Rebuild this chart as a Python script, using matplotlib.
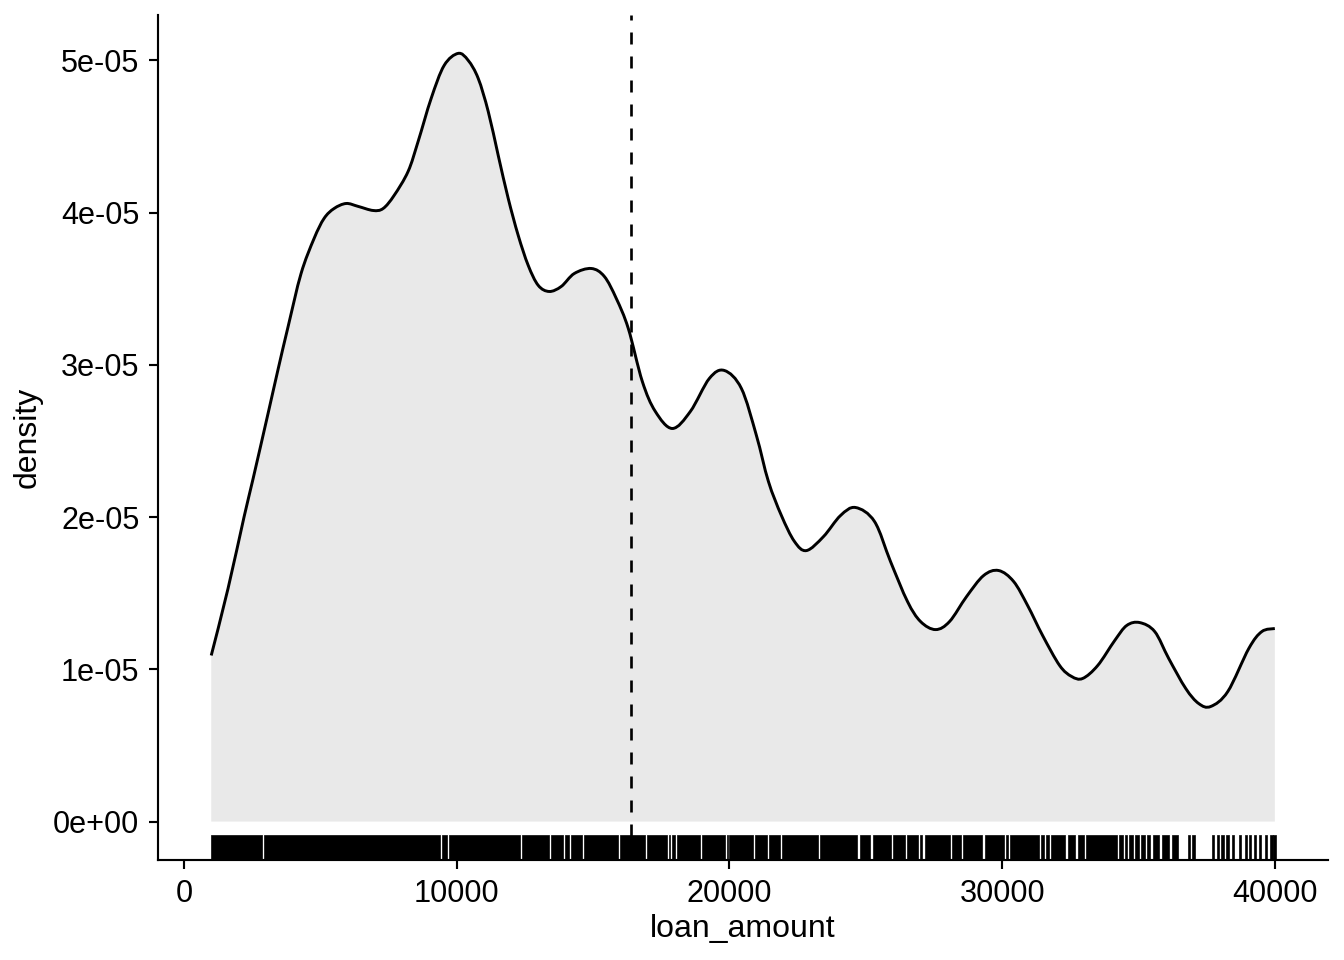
import numpy as np
import matplotlib.pyplot as plt
from matplotlib.path import Path
from matplotlib.patches import PathPatch
from matplotlib.transforms import blended_transform_factory

plt.rcParams['font.family'] = ['Liberation Sans', 'DejaVu Sans']

# density estimate of loan_amount
loan_x = [1000, 1615, 2202, 2532, 3083, 3450, 3817, 4294, 4771, 5138, 5505, 5945, 6385,
          6936, 7303, 7706, 8220, 8587, 9064, 9541, 10055, 10422, 10789, 11156,
          11523, 11890, 12257, 12624, 12991, 13394, 13835, 14312, 14936, 15413,
          15853, 16293, 16807, 17284, 17908, 18569, 19266, 19816, 20440, 20991,
          21431, 21908, 22385, 22825, 23450, 24073, 24624, 25321, 25908, 26532,
          27009, 27560, 28073, 28697, 29321, 29872, 30422, 30936, 31486, 32110,
          32550, 32954, 33505, 34128, 34569, 35046, 35596, 36110, 36734, 37211,
          37651, 38275, 39046, 39523, 40000]
density_e5 = [1.091, 1.53, 2.00, 2.25, 2.68, 2.97, 3.25, 3.60, 3.830, 3.962, 4.027,
              4.060, 4.041, 4.014, 4.027, 4.113, 4.271, 4.468, 4.750, 4.967, 5.046,
              5.000, 4.882, 4.665, 4.376, 4.093, 3.850, 3.653, 3.522, 3.482, 3.515,
              3.600, 3.633, 3.581, 3.436, 3.239, 2.891, 2.694, 2.582, 2.694, 2.911,
              2.963, 2.845, 2.536, 2.234, 2.010, 1.840, 1.780, 1.872, 2.010, 2.063,
              1.971, 1.708, 1.445, 1.314, 1.261, 1.314, 1.478, 1.616, 1.649, 1.577,
              1.419, 1.222, 1.025, 0.953, 0.940, 1.025, 1.189, 1.288, 1.307, 1.248,
              1.071, 0.874, 0.775, 0.756, 0.854, 1.137, 1.248, 1.268]
mean_loan = 16400

# rug: spans of loan_amount where ticks merge into solid black
rug_start = [1000, 2936, 9468, 9725, 12404, 13468, 13982, 14202, 14679, 16000,
             16991, 17798, 17908, 18092, 19009, 19927, 20000, 20954, 21468, 21945,
             23339, 24771, 25248, 25982, 26495, 26972, 27156, 28147, 28550, 29358,
             30128, 30275, 31413, 31596, 31780, 32403, 32770, 33064, 34275, 34495,
             34642, 34862, 35082, 35303, 35523, 35853, 36220, 36807, 36954, 37688,
             37872, 38018, 38202, 38422, 38679, 38899, 39045, 39229, 39413, 39633,
             39816, 39950]
rug_end = [2862, 9394, 9651, 12330, 13394, 13908, 14128, 14605, 15926, 16917,
           17725, 17835, 18018, 18936, 19853, 19960, 20881, 21394, 21872, 23266,
           24697, 25174, 25908, 26422, 26899, 27046, 28073, 28477, 29248, 30055,
           30202, 31339, 31523, 31706, 32293, 32660, 32990, 34202, 34422, 34569,
           34789, 35009, 35229, 35413, 35743, 36110, 36440, 36881, 37064, 37761,
           37945, 38128, 38312, 38495, 38752, 38972, 39119, 39303, 39486, 39706,
           39926, 40050]


def smooth_path(px, py):
    # Catmull-Rom style cubic bezier through the read points
    pts = np.column_stack([px, py])
    verts = [pts[0]]
    codes = [Path.MOVETO]
    n = len(pts)
    for i in range(n - 1):
        p0 = pts[max(i - 1, 0)]
        p1 = pts[i]
        p2 = pts[i + 1]
        p3 = pts[min(i + 2, n - 1)]
        verts += [p1 + (p2 - p0) / 6, p2 - (p3 - p1) / 6, p2]
        codes += [Path.CURVE4] * 3
    return verts, codes


x = np.array(loan_x, dtype=float)
y = np.array(density_e5) * 1e-5

fig = plt.figure(figsize=(7, 5), dpi=192)
ax = fig.add_axes([0.1176, 0.1042, 0.8705, 0.8802])

verts, codes = smooth_path(x, y)
fill_verts = verts + [(x[-1], 0), (x[0], 0), verts[0]]
fill_codes = codes + [Path.LINETO, Path.LINETO, Path.CLOSEPOLY]
ax.add_patch(PathPatch(Path(fill_verts, fill_codes), facecolor='#e9e9e9', lw=0))
ax.add_patch(PathPatch(Path(verts, codes), facecolor='none', edgecolor='black', lw=1.1))
ax.axvline(mean_loan, color='black', lw=1.0, ls=(0, (4.5, 4.5)))

trans = blended_transform_factory(ax.transData, ax.transAxes)
for s, e in zip(rug_start, rug_end):
    ax.fill_between([s, e], 0, 0.03, transform=trans, facecolor='black',
                    edgecolor='black', lw=0.25)

xr = x.max() - x.min()
ax.set_xlim(x.min() - 0.05 * xr, x.max() + 0.05 * xr)
ax.set_ylim(-0.05 * y.max(), 1.05 * y.max())

ax.set_xticks([0, 10000, 20000, 30000, 40000])
ax.set_yticks([0, 1e-5, 2e-5, 3e-5, 4e-5, 5e-5])
ax.set_yticklabels(['0e+00', '1e-05', '2e-05', '3e-05', '4e-05', '5e-05'])

for side in ['top', 'right']:
    ax.spines[side].set_visible(False)
for side in ['left', 'bottom']:
    ax.spines[side].set_linewidth(0.8)
ax.tick_params(axis='both', length=3.5, width=0.8, labelsize=11.5, colors='black')
ax.set_xlabel('loan_amount', fontsize=12, labelpad=2)
ax.set_ylabel('density', fontsize=12, labelpad=4)

fig.savefig('out.png', dpi=192)
